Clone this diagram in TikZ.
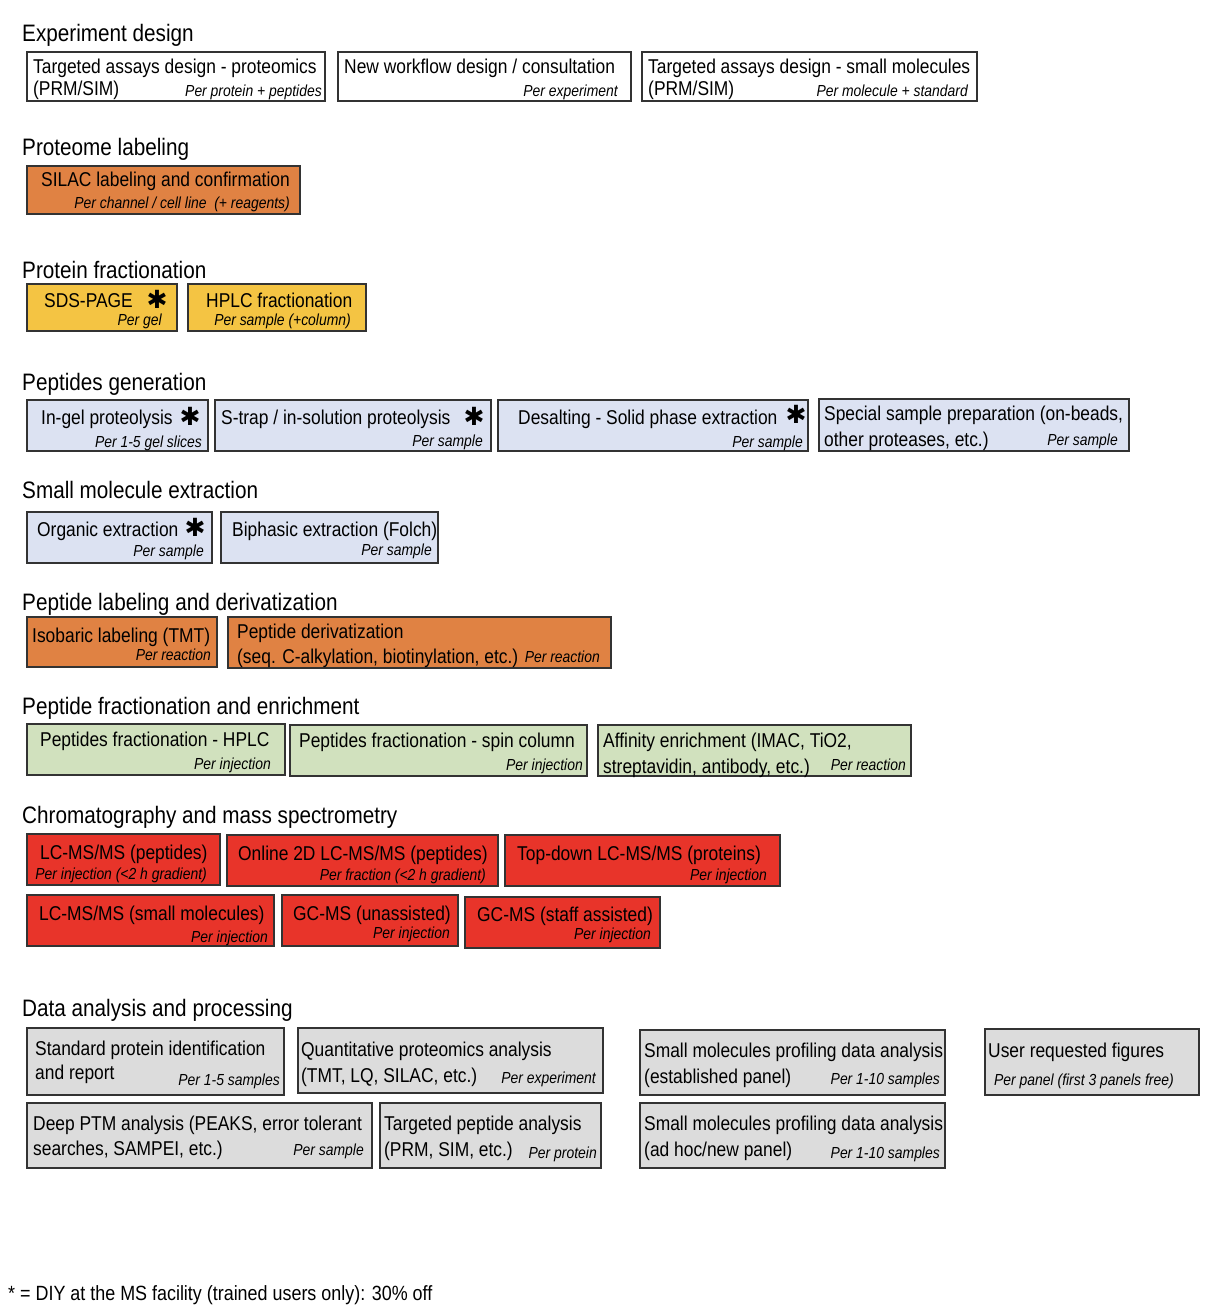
\documentclass[tikz,border=0pt]{standalone}
\usepackage{fontspec}
\setmainfont{Liberation Sans}[FakeStretch=0.87]
\newfontfamily\starfont{DejaVu Sans}
\definecolor{cwhite}{HTML}{FFFFFF}
\definecolor{corange}{HTML}{E08243}
\definecolor{cyellow}{HTML}{F4C443}
\definecolor{cblue}{HTML}{DCE2F2}
\definecolor{cgreen}{HTML}{D1E1BE}
\definecolor{cred}{HTML}{E8342A}
\definecolor{cgray}{HTML}{DCDCDC}
\definecolor{cline}{HTML}{333333}
\tikzset{
  bx/.style={draw=cline,line width=1.4pt,inner sep=0pt,rectangle},
  mt/.style={inner sep=0pt,font=\fontsize{20}{22}\selectfont},
  st/.style={inner sep=0pt,font=\fontsize{16}{18}\selectfont\itshape},
  hd/.style={inner sep=0pt,font=\fontsize{23.8}{26}\selectfont},
  ft/.style={inner sep=0pt,font=\fontsize{20.6}{23}\selectfont},
  sr/.style={inner sep=0pt,font=\fontsize{25}{25}\starfont}
}
\newcommand\bx[6]{\pgfmathsetmacro\bw{#5-#3}\pgfmathsetmacro\bh{#6-#4}%
  \node[bx,fill=#2,minimum width=\bw pt,minimum height=\bh pt] (#1) at ({(#3+#5)/2},{(#4+#6)/2}) {};}
\newcommand\tl[4]{\node[mt,anchor=base west] (#1) at (#2,#3) {#4};}
\newcommand\trr[4]{\node[st,anchor=base east] (#1) at (#2,#3) {#4};}
\newcommand\hd[4]{\node[hd,anchor=base west] (#1) at (#2,#3) {#4};}
\newcommand\sta[3]{\node[sr] (#1) at (#2,#3) {✱};}
\begin{document}
\begin{tikzpicture}[x=1pt,y=-1pt]
\fill[white] (0,0) rectangle (1228,1312);
\useasboundingbox (0,0) rectangle (1228,1312);
% headings
\hd{h1}{22}{41}{Experiment design}
\hd{h2}{22}{155}{Proteome labeling}
\hd{h3}{22}{278}{Protein fractionation}
\hd{h4}{22}{390}{Peptides generation}
\hd{h5}{22}{498}{Small molecule extraction}
\hd{h6}{22}{610}{Peptide labeling and derivatization}
\hd{h7}{22}{714}{Peptide fractionation and enrichment}
\hd{h8}{22}{823}{Chromatography and mass spectrometry}
\hd{h9}{22}{1016}{Data analysis and processing}
\node[ft,anchor=base west] (foot) at (8,1300) {* = DIY at the MS facility (trained users only): 30\% off};
% Experiment design
\bx{a1}{cwhite}{27}{52}{325}{101}
\tl{a1t1}{33}{73}{Targeted assays design - proteomics}
\tl{a1t2}{33}{95}{(PRM/SIM)}
\trr{a1s}{322}{96}{Per protein + peptides}
\bx{a2}{cwhite}{338}{52}{631}{101}
\tl{a2t1}{344}{73}{New workflow design / consultation}
\trr{a2s}{618}{96}{Per experiment}
\bx{a3}{cwhite}{642}{52}{977}{101}
\tl{a3t1}{648}{73}{Targeted assays design - small molecules}
\tl{a3t2}{648}{95}{(PRM/SIM)}
\trr{a3s}{968}{96}{Per molecule + standard}
% Proteome labeling
\bx{b1}{corange}{27}{166}{300}{214}
\tl{b1t1}{41}{186}{SILAC labeling and confirmation}
\trr{b1s}{290}{208}{Per channel / cell line~~(+ reagents)}
% Protein fractionation
\bx{c1}{cyellow}{27}{284}{177}{331}
\tl{c1t1}{44}{307}{SDS-PAGE}
\sta{c1x}{157}{299}
\trr{c1s}{162}{325}{Per gel}
\bx{c2}{cyellow}{188}{284}{366}{331}
\tl{c2t1}{206}{307}{HPLC fractionation}
\trr{c2s}{351}{325}{Per sample (+column)}
% Peptides generation
\bx{d1}{cblue}{27}{400}{208}{451}
\tl{d1t1}{41}{424}{In-gel proteolysis}
\sta{d1x}{190}{416}
\trr{d1s}{202}{447}{Per 1-5 gel slices}
\bx{d2}{cblue}{215}{400}{491}{451}
\tl{d2t1}{221}{424}{S-trap / in-solution proteolysis}
\sta{d2x}{474}{416}
\trr{d2s}{483}{446}{Per sample}
\bx{d3}{cblue}{498}{400}{808}{451}
\tl{d3t1}{518}{424}{Desalting - Solid phase extraction}
\sta{d3x}{796}{414}
\trr{d3s}{803}{447}{Per sample}
\bx{d4}{cblue}{819}{399}{1129}{451}
\tl{d4t1}{824}{420}{Special sample preparation (on-beads,}
\tl{d4t2}{824}{446}{other proteases, etc.)}
\trr{d4s}{1118}{445}{Per sample}
% Small molecule extraction
\bx{e1}{cblue}{27}{512}{212}{563}
\tl{e1t1}{37}{536}{Organic extraction}
\sta{e1x}{195}{527}
\trr{e1s}{204}{556}{Per sample}
\bx{e2}{cblue}{221}{512}{438}{563}
\tl{e2t1}{232}{536}{Biphasic extraction (Folch)}
\trr{e2s}{432}{555}{Per sample}
% Peptide labeling
\bx{f1}{corange}{27}{617}{217}{667}
\tl{f1t1}{32}{642}{Isobaric labeling (TMT)}
\trr{f1s}{211}{660}{Per reaction}
\bx{f2}{corange}{228}{617}{611}{668}
\tl{f2t1}{237}{638}{Peptide derivatization}
\tl{f2t2}{237}{663}{(seq. C-alkylation, biotinylation, etc.)}
\trr{f2s}{600}{662}{Per reaction}
% Peptide fractionation
\bx{g1}{cgreen}{27}{724}{285}{775}
\tl{g1t1}{40}{746}{Peptides fractionation - HPLC}
\trr{g1s}{271}{769}{Per injection}
\bx{g2}{cgreen}{290}{725}{587}{776}
\tl{g2t1}{299}{747}{Peptides fractionation - spin column}
\trr{g2s}{583}{770}{Per injection}
\bx{g3}{cgreen}{598}{725}{911}{776}
\tl{g3t1}{603}{747}{Affinity enrichment (IMAC, TiO2,}
\tl{g3t2}{603}{773}{streptavidin, antibody, etc.)}
\trr{g3s}{906}{770}{Per reaction}
% Chromatography
\bx{h1b}{cred}{27}{834}{220}{885}
\tl{h1t1}{40}{859}{LC-MS/MS (peptides)}
\trr{h1s}{207}{879}{Per injection (<2 h gradient)}
\bx{h2b}{cred}{227}{835}{498}{886}
\tl{h2t1}{238}{860}{Online 2D LC-MS/MS (peptides)}
\trr{h2s}{486}{880}{Per fraction (<2 h gradient)}
\bx{h3b}{cred}{505}{835}{780}{886}
\tl{h3t1}{517}{860}{Top-down LC-MS/MS (proteins)}
\trr{h3s}{767}{880}{Per injection}
\bx{h4b}{cred}{27}{895}{274}{946}
\tl{h4t1}{39}{920}{LC-MS/MS (small molecules)}
\trr{h4s}{268}{942}{Per injection}
\bx{h5b}{cred}{282}{895}{458}{946}
\tl{h5t1}{293}{920}{GC-MS (unassisted)}
\trr{h5s}{450}{938}{Per injection}
\bx{h6b}{cred}{465}{897}{660}{948}
\tl{h6t1}{477}{921}{GC-MS (staff assisted)}
\trr{h6s}{651}{939}{Per injection}
% Data analysis
\bx{i1}{cgray}{27}{1028}{284}{1095}
\tl{i1t1}{35}{1055}{Standard protein identification}
\tl{i1t2}{35}{1079}{and report}
\trr{i1s}{280}{1085}{Per 1-5 samples}
\bx{i2}{cgray}{298}{1028}{603}{1093}
\tl{i2t1}{301}{1056}{Quantitative proteomics analysis}
\tl{i2t2}{301}{1082}{(TMT, LQ, SILAC, etc.)}
\trr{i2s}{596}{1083}{Per experiment}
\bx{i3}{cgray}{640}{1030}{945}{1095}
\tl{i3t1}{644}{1057}{Small molecules profiling data analysis}
\tl{i3t2}{644}{1083}{(established panel)}
\trr{i3s}{940}{1084}{Per 1-10 samples}
\bx{i4}{cgray}{985}{1029}{1199}{1095}
\tl{i4t1}{988}{1057}{User requested figures}
\node[st,anchor=base west] (i4s) at (994,1085) {Per panel (first 3 panels free)};
\bx{i5}{cgray}{27}{1103}{372}{1168}
\tl{i5t1}{33}{1130}{Deep PTM analysis (PEAKS, error tolerant}
\tl{i5t2}{33}{1155}{searches, SAMPEI, etc.)}
\trr{i5s}{364}{1155}{Per sample}
\bx{i6}{cgray}{380}{1103}{601}{1168}
\tl{i6t1}{384}{1130}{Targeted peptide analysis}
\tl{i6t2}{384}{1156}{(PRM, SIM, etc.)}
\trr{i6s}{597}{1158}{Per protein}
\bx{i7}{cgray}{640}{1103}{945}{1168}
\tl{i7t1}{644}{1130}{Small molecules profiling data analysis}
\tl{i7t2}{644}{1156}{(ad hoc/new panel)}
\trr{i7s}{940}{1158}{Per 1-10 samples}
\end{tikzpicture}
\end{document}
